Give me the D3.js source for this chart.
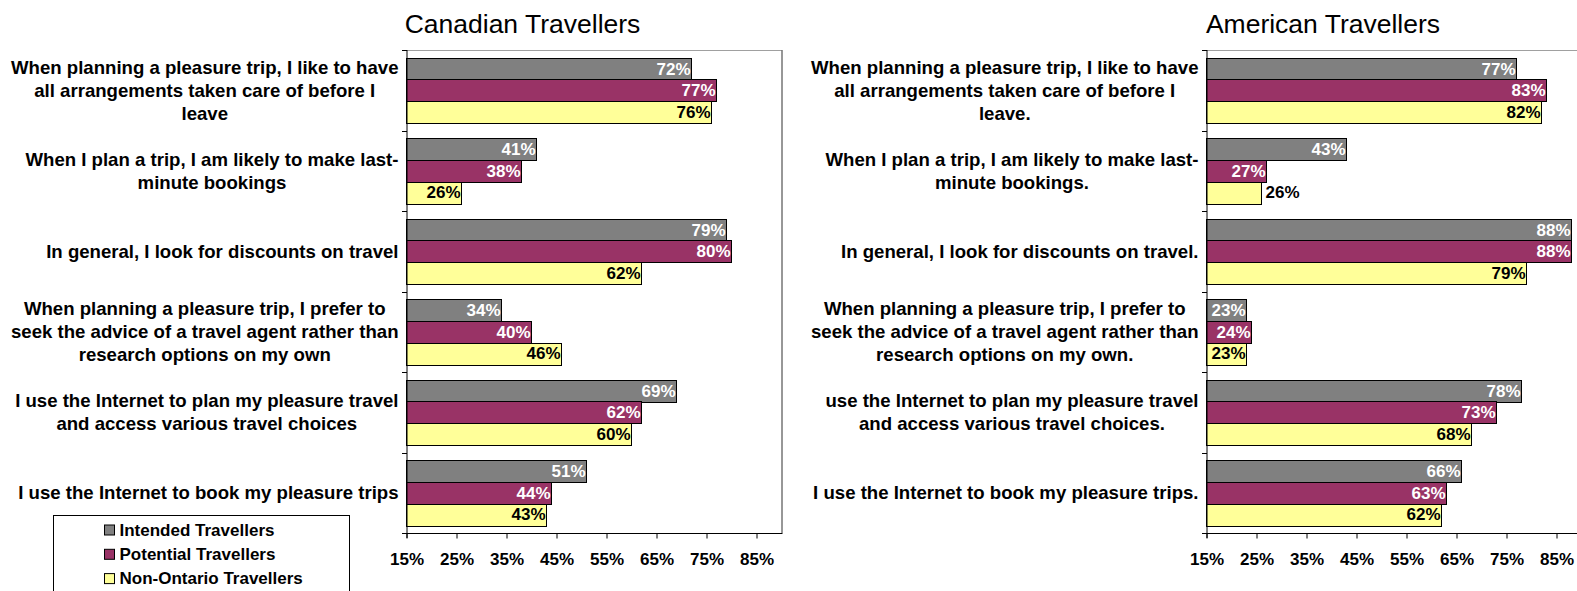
<!DOCTYPE html>
<html>
<head>
<meta charset="utf-8">
<script src="https://cdn.jsdelivr.net/npm/d3@7"></script>
<style>
  html, body { margin: 0; padding: 0; background: #fff; }
  svg { display: block; font-family: "Liberation Sans", Arial, sans-serif; }
</style>
</head>
<body>
<svg id="chart" width="1577" height="591"></svg>
<script>
// Survey statements (each entry is the wrapped lines of one category label)
const canadianCategories = [
  ["When planning a pleasure trip, I like to have", "all arrangements taken care of before I", "leave"],
  ["When I plan a trip, I am likely to make last-", "minute bookings"],
  ["In general, I look for discounts on travel"],
  ["When planning a pleasure trip, I prefer to", "seek the advice of a travel agent rather than", "research options on my own"],
  ["I use the Internet to plan my pleasure travel", "and access various travel choices"],
  ["I use the Internet to book my pleasure trips"]
];
const americanCategories = [
  ["When planning a pleasure trip, I like to have", "all arrangements taken care of before I", "leave."],
  ["When I plan a trip, I am likely to make last-", "minute bookings."],
  ["In general, I look for discounts on travel."],
  ["When planning a pleasure trip, I prefer to", "seek the advice of a travel agent rather than", "research options on my own."],
  ["use the Internet to plan my pleasure travel", "and access various travel choices."],
  ["I use the Internet to book my pleasure trips."]
];

const seriesNames = ["Intended Travellers", "Potential Travellers", "Non-Ontario Travellers"];
const seriesColors = ["#808080", "#993366", "#FFFF99"];
const labelColors = ["#ffffff", "#ffffff", "#000000"];

// Percent agreeing, per statement
const canadianIntended    = [72, 41, 79, 34, 69, 51];
const canadianPotential   = [77, 38, 80, 40, 62, 44];
const canadianNonOntario  = [76, 26, 62, 46, 60, 43];
const americanIntended    = [77, 43, 88, 23, 78, 66];
const americanPotential   = [83, 27, 88, 24, 73, 63];
const americanNonOntario  = [82, 26, 79, 23, 68, 62];

const xTicks = [15, 25, 35, 45, 55, 65, 75, 85];
const xDomain = [15, 90];

// labels drawn just past the bar end instead of inside it: [category, series]
const americanOutsideLabels = [[1, 2]];

const svg = d3.select("#chart");
svg.append("rect").attr("width", 1577).attr("height", 591).attr("fill", "#fff");

function drawPanel(opts) {
  const { left, title, titleX, categories, series, outside } = opts;
  const top = 50, bottom = 533;
  const x = d3.scaleLinear().domain(xDomain).range([left, left + 375]);
  const y = d3.scaleBand().domain(d3.range(categories.length))
    .range([top, bottom]).paddingInner(0.19).paddingOuter(0.095);
  const ySub = d3.scaleBand().domain(d3.range(series.length)).range([0, y.bandwidth()]);
  const step = y.step();

  const g = svg.append("g");

  // title
  g.append("text").attr("x", titleX).attr("y", 33)
    .attr("text-anchor", "middle").attr("font-size", 26.5).attr("fill", "#000")
    .text(title);

  // plot frame: top and right edges
  g.append("line").attr("x1", x(xDomain[0])).attr("x2", x(xDomain[1]))
    .attr("y1", top + 0.5).attr("y2", top + 0.5).attr("stroke", "#a0a0a0");
  g.append("line").attr("x1", x(xDomain[1]) + 0.5).attr("x2", x(xDomain[1]) + 0.5)
    .attr("y1", top).attr("y2", bottom).attr("stroke", "#303030");

  // bars
  series.forEach((vals, si) => {
    g.selectAll(null).data(vals).join("rect")
      .attr("x", x(xDomain[0]))
      .attr("y", (d, i) => Math.round(y(i) + ySub(si)) + 0.5)
      .attr("width", d => x(d) - x(xDomain[0]))
      .attr("height", Math.round(ySub.bandwidth()))
      .attr("fill", seriesColors[si])
      .attr("stroke", "#000").attr("stroke-width", 1);
  });

  // value labels
  series.forEach((vals, si) => {
    g.selectAll(null).data(vals).join("text")
      .each(function (d, i) {
        const out = outside.some(p => p[0] === i && p[1] === si);
        d3.select(this)
          .attr("x", out ? x(d) + 4 : x(d) - 1)
          .attr("text-anchor", out ? "start" : "end")
          .attr("fill", out ? "#000" : labelColors[si]);
      })
      .attr("y", (d, i) => y(i) + ySub(si) + ySub.bandwidth() / 2 + 6)
      .attr("font-size", 17).attr("font-weight", "bold")
      .text(d => d + "%");
  });

  // category axis (left)
  const yAxisX = x(xDomain[0]) + 0.5;
  g.append("line").attr("x1", yAxisX).attr("x2", yAxisX)
    .attr("y1", top).attr("y2", bottom + 5).attr("stroke", "#000");
  d3.range(categories.length + 1).forEach(k => {
    const ty = Math.round(top + k * step) + 0.5;
    g.append("line").attr("x1", yAxisX - 5).attr("x2", yAxisX)
      .attr("y1", ty).attr("y2", ty).attr("stroke", "#000");
  });

  // category labels: each block sits flush against the axis, its lines centred within it
  const labelRight = left - 8;
  const lineH = 22.8;
  categories.forEach((lines, i) => {
    const cy = y(i) + y.bandwidth() / 2;
    const t = g.append("text").attr("text-anchor", "middle")
      .attr("font-size", 18.6).attr("font-weight", "bold").attr("fill", "#000");
    const spans = lines.map((ln, j) => t.append("tspan")
      .attr("y", cy + 6.5 + (j - (lines.length - 1) / 2) * lineH)
      .text(ln));
    const maxW = d3.max(spans, s => s.node().getComputedTextLength());
    spans.forEach(s => s.attr("x", labelRight - maxW / 2));
  });

  // value axis (bottom)
  const xAxis = d3.axisBottom(x).tickValues(xTicks)
    .tickSize(5).tickPadding(14).tickFormat(d => d + "%");
  const ax = g.append("g").attr("transform", `translate(0,${bottom + 0.5})`).call(xAxis);
  ax.select(".domain").attr("d", `M${x(xDomain[0])},0H${x(xDomain[1]) + 1}`).attr("stroke", "#000");
  ax.selectAll(".tick line").attr("stroke", "#000");
  ax.selectAll(".tick text").attr("font-size", 17).attr("font-weight", "bold")
    .attr("fill", "#000").attr("font-family", "'Liberation Sans', Arial, sans-serif");
}

drawPanel({
  left: 406.5, title: "Canadian Travellers", titleX: 522.5,
  categories: canadianCategories,
  series: [canadianIntended, canadianPotential, canadianNonOntario],
  outside: []
});
drawPanel({
  left: 1206.5, title: "American Travellers", titleX: 1323,
  categories: americanCategories,
  series: [americanIntended, americanPotential, americanNonOntario],
  outside: americanOutsideLabels
});

// legend
const legend = svg.append("g");
legend.append("rect").attr("x", 53.5).attr("y", 515.5).attr("width", 296).attr("height", 100)
  .attr("fill", "#fff").attr("stroke", "#000");
seriesNames.forEach((name, i) => {
  const by = 535.5 + i * 24.3;
  legend.append("rect").attr("x", 104.5).attr("y", by - 10.5).attr("width", 10).attr("height", 10)
    .attr("fill", seriesColors[i]).attr("stroke", "#000");
  legend.append("text").attr("x", 119.5).attr("y", by)
    .attr("font-size", 17).attr("font-weight", "bold").attr("fill", "#000").text(name);
});
</script>
</body>
</html>
